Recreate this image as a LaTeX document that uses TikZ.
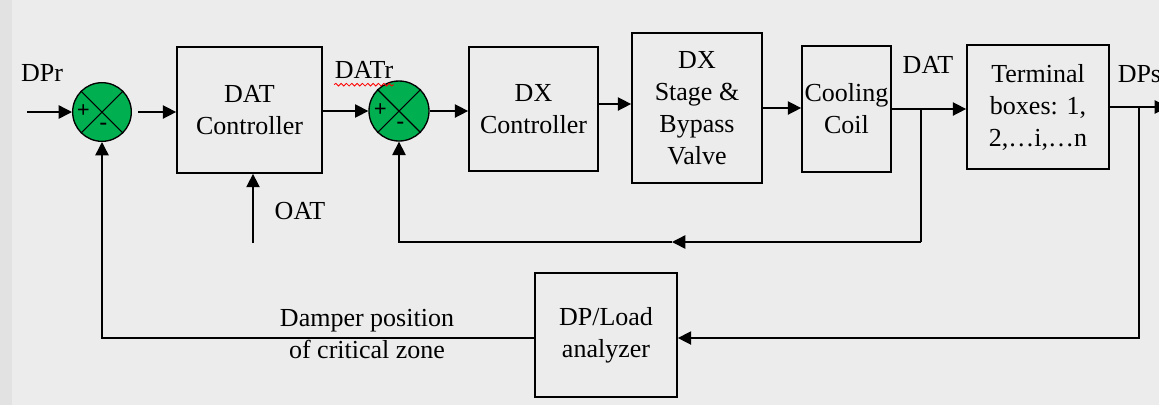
\documentclass[tikz,border=0pt]{standalone}
\usepackage{fontspec}
\setmainfont{Liberation Serif}
\newfontfamily\diagfont{Liberation Serif}
\usetikzlibrary{arrows.meta,decorations.pathmorphing}

\definecolor{bggray}{RGB}{236,236,236}
\definecolor{stripgray}{RGB}{226,226,226}
\definecolor{sumgreen}{RGB}{0,176,80}

\tikzset{every picture/.style={line width=1.1pt}}
\tikzset{
  blk/.style={draw, line width=1.3pt, inner sep=0pt, align=center,
    font=\diagfont\fontsize{19.5}{24}\selectfont},
  sumnode/.style={circle, draw, line width=1pt, fill=sumgreen, inner sep=0pt,
    minimum size=44pt},
  lbl/.style={inner sep=0pt, align=center, font=\diagfont\fontsize{19.5}{24}\selectfont},
  sgn/.style={inner sep=0pt, font=\diagfont\bfseries\fontsize{17}{17}\selectfont},
  arr/.style={-{Triangle[length=10pt,width=10pt]}},
}

\begin{document}
\begin{tikzpicture}[x=0.75pt,y=0.75pt,yscale=-1,xscale=1]
\useasboundingbox (0,0) rectangle (1159,405);
\fill[bggray] (0,0) rectangle (1159,405);
\fill[stripgray] (0,0) rectangle (12,405);

%Shape: Summing junctions
\node[sumnode] (s1) at (102,112) {};
\node[sumnode, minimum size=45pt] (s2) at (399,111) {};
\foreach \s in {s1,s2}{
  \draw[line width=0.8pt] (\s.north west) -- (\s.south east) (\s.north east) -- (\s.south west);
  \node[sgn] at ([xshift=-14pt,yshift=-1pt]\s.center) {+};
  \node[sgn] at ([xshift=1pt,yshift=11pt]\s.center) {-};
}

%Shape: Blocks
\node[blk, minimum width=108.75pt, minimum height=94.5pt] (datc) at (249.5,110) {DAT\\Controller};
\node[blk, minimum width=96.75pt, minimum height=93pt] (dxc) at (533.5,109) {DX\\Controller};
\node[blk, minimum width=97.5pt, minimum height=112.5pt] (dxs) at (697,108) {DX\\Stage \&\\Bypass\\Valve};
\node[blk, minimum width=66.75pt, minimum height=94.5pt] (coil) at (846.5,109) {Cooling\\Coil};
\node[blk, minimum width=106.5pt, minimum height=93pt] (term) at (1038,107) {Terminal\\boxes: 1,\\2,…i,…n};
\node[blk, minimum width=106.5pt, minimum height=93pt] (dpl) at (606,335) {DP/Load\\analyzer};

%Free ends and branch points
\coordinate (in) at (27,112);
\coordinate (oat) at (253,243);
\coordinate (out) at (1168,107);
\coordinate (datsplit) at (921,109);
\coordinate (datfb) at (921,242);
\coordinate (datmid) at (672,242);
\coordinate (dpsplit) at (1139,107);

%Forward path
\draw[arr] (in) -- (s1.west);
\draw[arr, shorten <=4.5pt] (s1.east) -- (s1.east -| datc.west);
\draw[arr] (datc.east |- s2) -- (s2.west);
\draw[arr] (s2.east) -- (s2.east -| dxc.west);
\draw[arr] ([yshift=-3.75pt]dxc.east) -- ([yshift=-3.75pt]dxc.east -| dxs.west);
\draw[arr] (dxs.east) -- (dxs.east -| coil.west);
\draw[arr] (coil.east) -- (coil.east -| term.west);
\draw[arr] (term.east) -- (out);
\draw[arr] (oat) -- (oat |- datc.south);

%Feedback paths
\draw (datsplit) -- (datfb);
\draw[arr] (datfb) -- (datmid);
\draw[arr] (datmid) -| (s2.south);
\draw[arr] (dpsplit) |- ([yshift=2.25pt]dpl.east);
\draw[arr] ([yshift=2.25pt]dpl.west) -| (s1.south);

% Text Node
\node[lbl] (dpr) at (42,73) {DPr};
% Text Node
\node[lbl] (datr) at (364,70) {DATr};
\draw[red, line width=0.6pt, decorate, decoration={snake, amplitude=1pt, segment length=4pt}]
  ([yshift=4pt]datr.south west) -- ([yshift=4pt]datr.south east);
% Text Node
\node[lbl] (oatl) at (300,211) {OAT};
% Text Node
\node[lbl] (datl) at (928,65) {DAT};
% Text Node
\node[lbl, anchor=west] (dps) at (1117,74) {DPs};
% Text Node
\node[lbl] (damper) at (367,334) {Damper position\\of critical zone};
\end{tikzpicture}
\end{document}
